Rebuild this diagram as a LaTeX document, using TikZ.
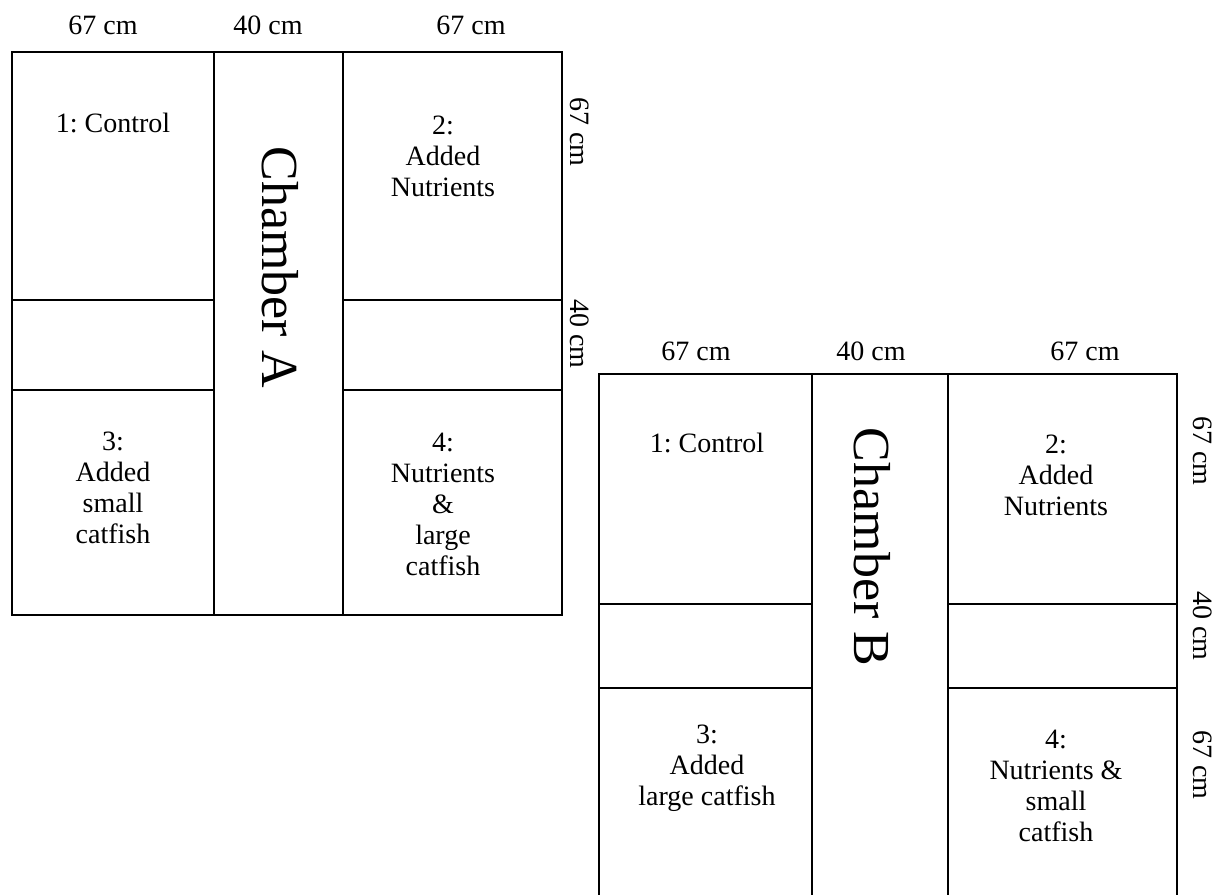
\documentclass[tikz,border=0pt]{standalone}
\usepackage{fontspec}
\setmainfont{Liberation Serif}
\frenchspacing
\begin{document}
\begin{tikzpicture}[x=0.5pt,y=-0.5pt,
    every node/.style={font=\fontsize{14}{15.5}\selectfont, align=center, inner sep=0pt},
    wall/.style={line width=0.9pt},
    chamber/.style={font=\fontsize{26}{30}\selectfont, rotate=-90}]
    \useasboundingbox (0,0) rectangle (1217,895);
    % chamber A
    \draw[wall] (12,52) rectangle (562,615);
    \draw[wall] (214,52) -- (214,615);
    \draw[wall] (343,52) -- (343,615);
    \draw[wall] (12,300) -- (214,300) (12,390) -- (214,390);
    \draw[wall] (343,300) -- (562,300) (343,390) -- (562,390);
    \node (aw1) at (103,25){67 cm};
    \node (aw2) at (268,25){40 cm};
    \node (aw3) at (471,25){67 cm};
    \node[rotate=-90] (ah1) at (580,132){67 cm};
    \node[rotate=-90] (ah2) at (580,334){40 cm};
    \node (a1) at (113,123){1: Control};
    \node (a2) at (443,156){2:\\Added\\Nutrients};
    \node (a3) at (113,488){3:\\Added\\small\\catfish};
    \node (a4) at (443,504){4:\\Nutrients\\\&\\large\\catfish};
    \node[chamber] (ca) at (280,267){Chamber A};
    % chamber B, runs off the bottom
    \draw[wall] (599,895) -- (599,374) -- (1177,374) -- (1177,895);
    \draw[wall] (812,374) -- (812,895);
    \draw[wall] (948,374) -- (948,895);
    \draw[wall] (599,604) -- (812,604) (599,688) -- (812,688);
    \draw[wall] (948,604) -- (1177,604) (948,688) -- (1177,688);
    \node (bw1) at (696,351){67 cm};
    \node (bw2) at (871,351){40 cm};
    \node (bw3) at (1085,351){67 cm};
    \node[rotate=-90] (bh1) at (1203,451){67 cm};
    \node[rotate=-90] (bh2) at (1203,626){40 cm};
    \node[rotate=-90] (bh3) at (1203,765){67 cm};
    \node (b1) at (707,443){1: Control};
    \node (b2) at (1056,475){2:\\Added\\Nutrients};
    \node (b3) at (707,768){3:\\Added\\large catfish};
    \node (b4) at (1056,786){4:\\Nutrients \&\\small\\catfish};
    \node[chamber] (cb) at (872,547){Chamber B};
\end{tikzpicture}
\end{document}
